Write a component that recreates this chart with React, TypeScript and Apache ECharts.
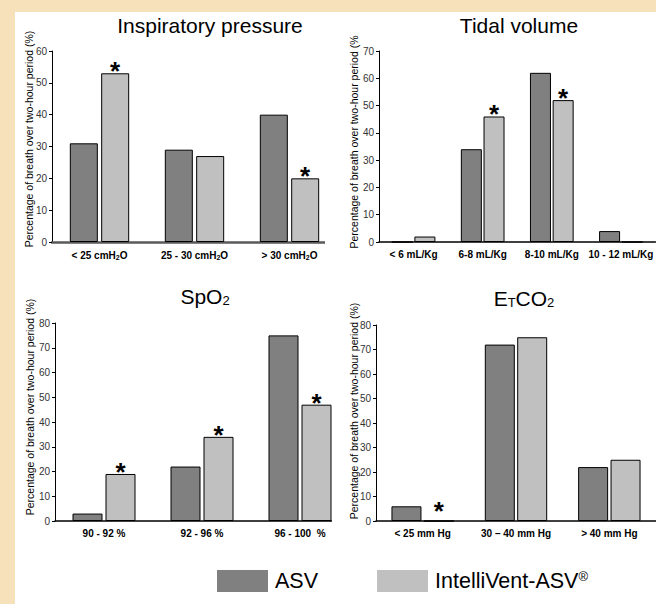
import React, { useEffect, useRef } from 'react';
import * as echarts from 'echarts';

// ---------- data ----------
const pressureCats = ['< 25 cmH2O', '25 - 30 cmH2O', '> 30 cmH2O'];
const pressureASV = [31, 29, 40];
const pressureIV = [53, 27, 20];
const pressureStars = [true, false, true];

const tidalCats = ['< 6 mL/Kg', '6-8 mL/Kg', '8-10 mL/Kg', '10 - 12 mL/Kg'];
const tidalASV = [0, 34, 62, 4];
const tidalIV = [2, 46, 52, 0];
const tidalStars = [false, true, true, false];

const spo2Cats = ['90 - 92 %', '92 - 96 %', '96 - 100  %'];
const spo2ASV = [3, 22, 75];
const spo2IV = [19, 34, 47];
const spo2Stars = [true, true, true];

const etco2Cats = ['< 25 mm Hg', '30 – 40 mm Hg', '> 40 mm Hg'];
const etco2ASV = [6, 72, 22];
const etco2IV = [0, 75, 25];
const etco2Stars = [true, false, false];

const yMaxes = [60, 70, 80, 80];
const seriesNames = ['ASV', 'IntelliVent-ASV'];
const yLabel = 'Percentage of breath over two-hour period (%)';
const yLabelCut = 'Percentage of breath over two-hour period (%';

// ---------- styles ----------
const DARK = '#808080';
const LIGHT = '#C0C0C0';
const FONT = '"Liberation Sans", Arial, sans-serif';

const panels = [
  { cats: pressureCats, asv: pressureASV, iv: pressureIV, stars: pressureStars,
    grid: { left: 52, top: 51, width: 285, height: 191 }, barWidth: 28, barGap: '12%',
    xLine: { color: '#5a5a5a', width: 2.5 } },
  { cats: tidalCats, asv: tidalASV, iv: tidalIV, stars: tidalStars,
    grid: { left: 379, top: 51, width: 280, height: 191 }, barWidth: 21, barGap: '8%',
    xLine: { color: '#000', width: 1.5 } },
  { cats: spo2Cats, asv: spo2ASV, iv: spo2IV, stars: spo2Stars,
    grid: { left: 55, top: 323, width: 294, height: 198 }, barWidth: 30, barGap: '10%',
    xLine: { color: '#000', width: 1.5 } },
  { cats: etco2Cats, asv: etco2ASV, iv: etco2IV, stars: etco2Stars,
    grid: { left: 376, top: 325, width: 293, height: 196 }, barWidth: 30, barGap: '8%',
    xLine: { color: '#000', width: 1.5 } },
];

const subRich = {
  sub: { fontSize: 7, fontWeight: 'bold', fontFamily: FONT, color: '#000', verticalAlign: 'bottom', padding: [5, 0, 0, 0] },
};

function catFormatter(v: string) {
  return v.replace('H2O', 'H{sub|2}O');
}

export default function App() {
  const ref = useRef<HTMLDivElement>(null);
  useEffect(() => {
    if (!ref.current) return;
    const chart = echarts.init(ref.current, null, { renderer: 'svg' });

    const grid: any[] = [];
    const xAxis: any[] = [];
    const yAxis: any[] = [];
    const series: any[] = [];

    panels.forEach((p, i) => {
      grid.push({ ...p.grid, containLabel: false });
      xAxis.push({
        type: 'category', gridIndex: i, data: p.cats,
        axisLine: { show: true, lineStyle: p.xLine },
        axisTick: { show: false },
        axisLabel: {
          interval: 0, fontSize: 10, fontWeight: 'bold', color: '#000', fontFamily: FONT, margin: 7,
          formatter: catFormatter, rich: subRich,
        },
        splitLine: { show: false },
      });
      yAxis.push({
        type: 'value', gridIndex: i, min: 0, max: yMaxes[i], interval: 10,
        axisLine: { show: true, lineStyle: { color: '#000', width: 1 } },
        axisTick: { show: true, length: 3, lineStyle: { color: '#000' } },
        axisLabel: { fontSize: 10, color: '#333', fontFamily: FONT, margin: 5 },
        splitLine: { show: false },
      });
      const vals = [p.asv, p.iv];
      vals.forEach((arr, s) => {
        series.push({
          type: 'bar', name: seriesNames[s], xAxisIndex: i, yAxisIndex: i,
          barWidth: p.barWidth, barGap: p.barGap,
          itemStyle: { color: s === 0 ? DARK : LIGHT, borderColor: '#000', borderWidth: 1 },
          data: arr.map((v, k) =>
            s === 1 && p.stars[k]
              ? { value: v, label: { show: true, position: 'top', formatter: '*', fontSize: 26, fontWeight: 'bold', color: '#000', fontFamily: FONT, distance: v === 0 ? -3 : -11 } }
              : v
          ),
        });
      });
    });

    const titleStyle = { fontSize: 21, fontFamily: FONT, fill: '#000', align: 'center', verticalAlign: 'middle' };
    const titleRich = { sub: { fontSize: 13, fontFamily: FONT, verticalAlign: 'bottom', padding: [8, 0, 0, 0] } };
    const ylabStyle = { fontSize: 10.5, fontFamily: FONT, fill: '#000', align: 'center', verticalAlign: 'middle' };

    chart.setOption({
      animation: false,
      backgroundColor: '#F6E1BB',
      graphic: [
        { type: 'rect', z: -10, silent: true, shape: { x: 15, y: 12, width: 641, height: 592 }, style: { fill: '#ffffff' } },
        // crop edges of the pasted panels
        { type: 'rect', z: 100, silent: true, shape: { x: 325, y: 238, width: 14, height: 8 }, style: { fill: '#ffffff' } },
        { type: 'rect', z: 100, silent: true, shape: { x: 332, y: 517, width: 18, height: 8 }, style: { fill: '#ffffff' } },
        { type: 'text', x: 210, y: 25, style: { ...titleStyle, text: 'Inspiratory pressure' } },
        { type: 'text', x: 519, y: 25, style: { ...titleStyle, text: 'Tidal volume' } },
        { type: 'text', x: 205, y: 296, style: { ...titleStyle, text: 'SpO{sub|2}', rich: titleRich } },
        { type: 'text', x: 524, y: 298, style: { ...titleStyle, text: 'E{sub|T}CO{sub|2}', rich: titleRich } },
        { type: 'text', x: 29, y: 139, rotation: Math.PI / 2, style: { ...ylabStyle, text: yLabel } },
        { type: 'text', x: 354, y: 142, rotation: Math.PI / 2, style: { ...ylabStyle, text: yLabelCut } },
        { type: 'text', x: 30, y: 407, rotation: Math.PI / 2, style: { ...ylabStyle, text: yLabel } },
        { type: 'text', x: 354, y: 411, rotation: Math.PI / 2, style: { ...ylabStyle, text: yLabel } },
      ],
      legend: {
        left: 217, top: 570, padding: 0, icon: 'rect', itemWidth: 51, itemHeight: 22, itemGap: 59,
        data: seriesNames,
        itemStyle: { borderWidth: 0 },
        textStyle: { fontSize: 21.5, color: '#000', fontFamily: FONT, padding: [0, 0, 0, 2],
          rich: { sup: { fontSize: 13, fontFamily: FONT, verticalAlign: 'top', padding: [0, 0, 8, 0] } } },
        formatter: (n: string) => (n === 'IntelliVent-ASV' ? 'IntelliVent-ASV{sup|®}' : n),
        selectedMode: false,
      },
      grid, xAxis, yAxis, series,
    });
    return () => chart.dispose();
  }, []);
  return <div ref={ref} style={{ position: 'absolute', left: 0, top: 0, width: 656, height: 604 }} />;
}
